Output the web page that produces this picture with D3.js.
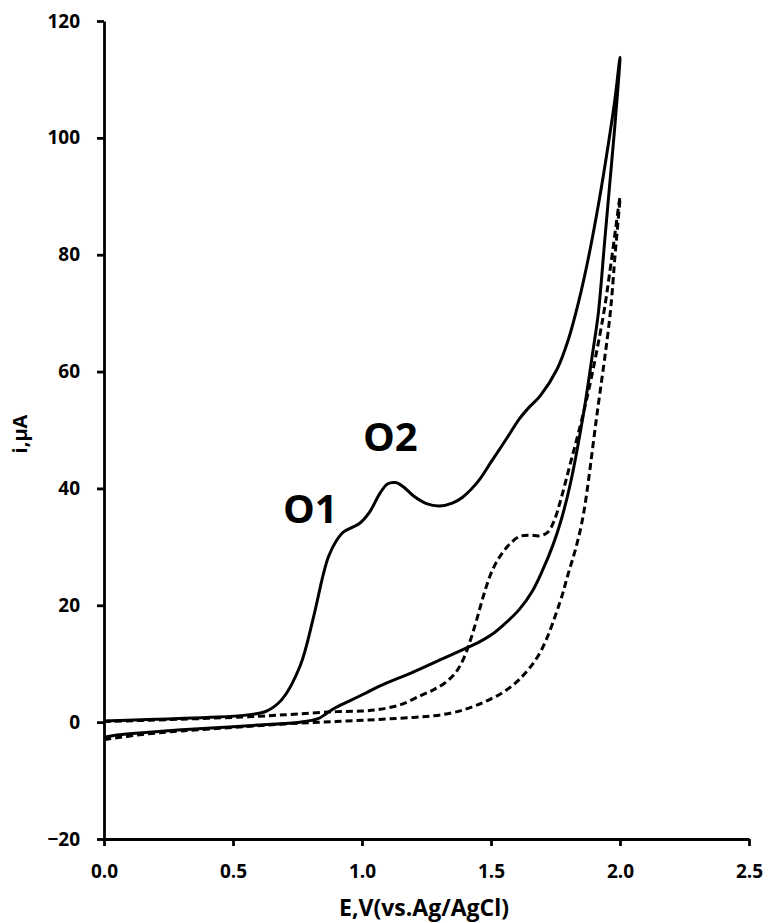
<!DOCTYPE html>
<html>
<head>
<meta charset="utf-8">
<script src="https://d3js.org/d3.v7.min.js"></script>
<style>
body { margin: 0; background: #fff; }
.axis text { font-family: "Open Sans", sans-serif; font-weight: bold; font-size: 19px; fill: #000; }
.axis path, .axis line { stroke: #000; stroke-width: 2.8px; }
.title { font-family: "Open Sans", sans-serif; font-weight: bold; font-size: 23px; }
.peak { font-family: "Open Sans", sans-serif; font-weight: bold; font-size: 40px; }
</style>
</head>
<body>
<svg id="chart" width="768" height="923"></svg>
<script>
// tick labels
var xTicks = [0, 0.5, 1.0, 1.5, 2.0, 2.5];
var yTicks = [-20, 0, 20, 40, 60, 80, 100, 120];

// modified electrode (solid) - potential E (V) and current i (uA), forward then reverse scan
var solidE = [0.00, 0.20, 0.40, 0.55, 0.63, 0.69, 0.76, 0.81, 0.85, 0.87, 0.90, 0.93, 0.96, 0.99,
  1.03, 1.07, 1.10, 1.13, 1.16, 1.20, 1.25, 1.30, 1.35, 1.39, 1.45, 1.50, 1.56, 1.61, 1.65, 1.69,
  1.756, 1.80, 1.84, 1.88, 1.92, 1.955, 1.98, 2.00,
  1.98, 1.96, 1.94, 1.916, 1.895, 1.857, 1.806, 1.77, 1.74, 1.70, 1.66, 1.61, 1.55, 1.50, 1.45, 1.41,
  1.30, 1.20, 1.07, 1.02, 0.95, 0.89, 0.86, 0.83, 0.76, 0.60, 0.45, 0.30, 0.15, 0.05, 0.00];
var solidI = [0.2, 0.5, 0.8, 1.2, 1.9, 3.9, 9.6, 17.6, 25.3, 28.3, 31.0, 32.6, 33.3, 34.0,
  36.0, 39.2, 40.8, 41.0, 40.3, 38.7, 37.4, 37.0, 37.5, 38.5, 41.2, 44.5, 48.5, 51.9, 54.0, 55.8,
  60.4, 65.5, 72.0, 80.0, 89.5, 99.0, 106.5, 113.8,
  102.0, 92.0, 82.0, 70.0, 63.5, 52.4, 40.5, 34.3, 30.3, 26.0, 22.4, 19.3, 16.7, 14.9, 13.6, 12.8,
  10.6, 8.6, 6.2, 5.1, 3.6, 2.3, 1.4, 0.6, 0.0, -0.5, -0.9, -1.3, -1.8, -2.2, -2.6];

// bare electrode (dashed)
var dashE = [0.00, 0.30, 0.60, 0.75, 0.90, 1.00, 1.07, 1.15, 1.225, 1.28, 1.33, 1.365, 1.393, 1.42,
  1.445, 1.47, 1.496, 1.52, 1.548, 1.58, 1.612, 1.65, 1.69, 1.72, 1.745, 1.77, 1.80, 1.871, 1.935,
  1.965, 2.00,
  1.99, 1.981, 1.961, 1.91, 1.858, 1.83, 1.80, 1.767, 1.69, 1.612, 1.55, 1.496, 1.45, 1.40, 1.35,
  1.28, 1.20, 1.08, 0.90, 0.70, 0.50, 0.30, 0.15, 0.00];
var dashI = [0.1, 0.5, 1.0, 1.4, 1.8, 1.9, 2.2, 3.0, 4.5, 5.6, 7.0, 8.6, 10.8, 14.0,
  17.6, 21.5, 25.0, 27.3, 29.2, 30.8, 31.8, 32.0, 31.9, 32.5, 34.5, 38.0, 43.0, 55.3, 69.5,
  78.5, 89.8,
  84.5, 80.0, 69.5, 52.4, 35.5, 30.0, 25.5, 20.5, 11.9, 7.4, 5.2, 3.9, 3.0, 2.2, 1.6,
  1.1, 0.8, 0.5, 0.1, -0.3, -0.9, -1.5, -2.1, -3.0];

// peak annotations
var peakNames = ["O1", "O2"];
var peakE = [0.80, 1.11];
var peakI = [34, 46.4];

var margin = {top: 21, right: 19, bottom: 84, left: 104};
var width = 768 - margin.left - margin.right;
var height = 923 - margin.top - margin.bottom;

var svg = d3.select("#chart");
var chart = svg.append("g")
  .attr("transform", "translate(" + margin.left + "," + margin.top + ")");

var x = d3.scaleLinear().domain([0, 2.5]).range([0, width]);
var y = d3.scaleLinear().domain([-20, 120]).range([height, 0]);

var line = d3.line()
  .x(function(d) { return x(d[0]); })
  .y(function(d) { return y(d[1]); })
  .curve(d3.curveCatmullRom.alpha(0.5));

chart.append("path")
  .datum(d3.zip(dashE, dashI))
  .attr("d", line)
  .attr("fill", "none")
  .attr("stroke", "#000")
  .attr("stroke-width", 3)
  .attr("stroke-linejoin", "round")
  .attr("stroke-dasharray", "7,4");

chart.append("path")
  .datum(d3.zip(solidE, solidI))
  .attr("d", line)
  .attr("fill", "none")
  .attr("stroke", "#000")
  .attr("stroke-width", 3)
  .attr("stroke-linejoin", "round");

// axes
chart.append("g")
  .attr("class", "axis")
  .attr("transform", "translate(0," + height + ")")
  .call(d3.axisBottom(x).tickValues(xTicks).tickSize(7).tickSizeOuter(0).tickPadding(19)
    .tickFormat(d3.format(".1f")));

chart.append("g")
  .attr("class", "axis")
  .call(d3.axisLeft(y).tickValues(yTicks).tickSize(7).tickSizeOuter(0).tickPadding(17));

// peak labels
chart.selectAll(".peak")
  .data(peakNames)
  .enter()
  .append("text")
  .attr("class", "peak")
  .attr("text-anchor", "middle")
  .attr("x", function(d, i) { return x(peakE[i]); })
  .attr("y", function(d, i) { return y(peakI[i]); })
  .text(function(d) { return d; });

// axis titles
svg.append("text")
  .attr("class", "title")
  .attr("text-anchor", "middle")
  .attr("x", 424)
  .attr("y", 916)
  .text("E,V(vs.Ag/AgCl)");

svg.append("text")
  .attr("class", "title")
  .attr("text-anchor", "middle")
  .style("font-size", "20px")
  .attr("transform", "translate(27,434) rotate(-90)")
  .text("i,µA");
</script>
</body>
</html>
